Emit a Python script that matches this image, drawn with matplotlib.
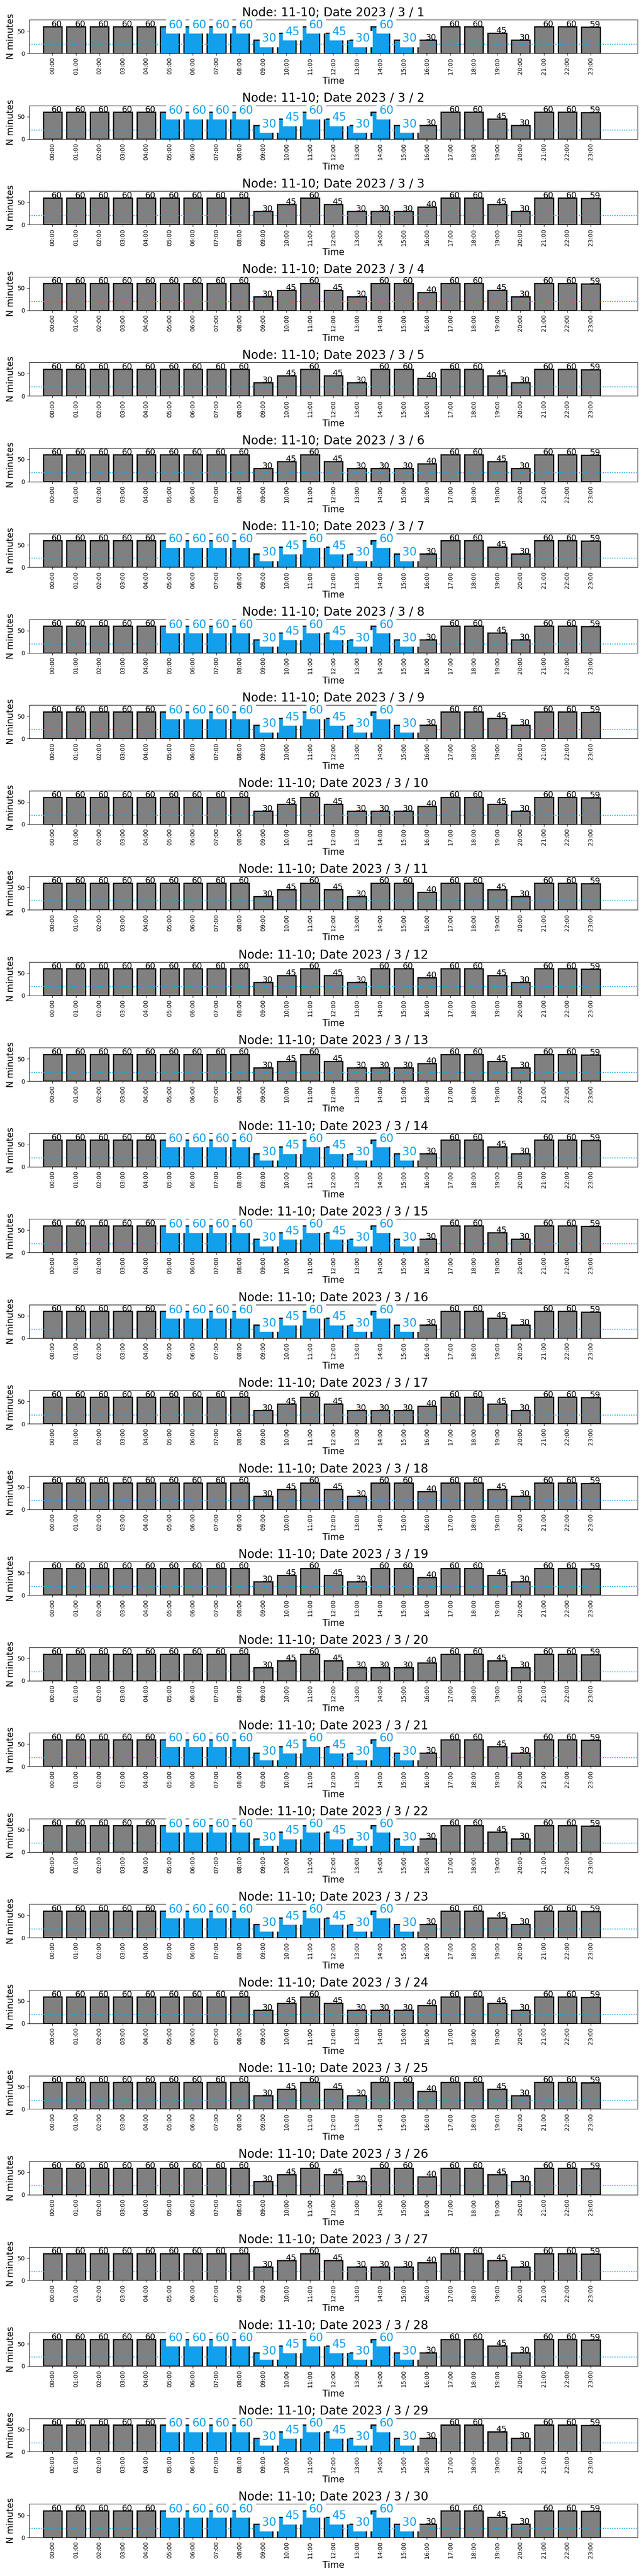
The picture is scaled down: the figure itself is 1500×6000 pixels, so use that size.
import matplotlib
matplotlib.use("Agg")
from matplotlib import pyplot as plt

NODE = "11-10"
YEAR = 2023
MONTH = 3
DAYS = list(range(1, 31))

HOURS = ["00:00", "01:00", "02:00", "03:00", "04:00", "05:00", "06:00", "07:00",
         "08:00", "09:00", "10:00", "11:00", "12:00", "13:00", "14:00", "15:00",
         "16:00", "17:00", "18:00", "19:00", "20:00", "21:00", "22:00", "23:00"]

# minutes per hour, three recurring day profiles
MINUTES_A = [60, 60, 60, 60, 60, 60, 60, 60, 60, 30, 45, 60, 45, 30, 60, 30, 30, 60, 60, 45, 30, 60, 60, 59]
MINUTES_B = [60, 60, 60, 60, 60, 60, 60, 60, 60, 30, 45, 60, 45, 30, 30, 30, 40, 60, 60, 45, 30, 60, 60, 59]
MINUTES_C = [60, 60, 60, 60, 60, 60, 60, 60, 60, 30, 45, 60, 45, 30, 60, 60, 40, 60, 60, 45, 30, 60, 60, 59]
DAY_PROFILE = "AABCCBAAABCCBAAABCCBAAABCCBAAA"
PROFILES = {"A": MINUTES_A, "B": MINUTES_B, "C": MINUTES_C}

# hours highlighted in blue on "A" days
HIGHLIGHT_HOURS = [5, 6, 7, 8, 9, 10, 11, 12, 13, 14, 15]
THRESHOLD = 20

GRAY = "#808080"
BLUE = "#12a0ec"

fig, axes = plt.subplots(len(DAYS), 1, figsize=(15, 60), dpi=100)
fig.subplots_adjust(left=0.0453, right=0.99, top=0.9923, bottom=0.015, hspace=1.56)

for ax, day, prof in zip(axes, DAYS, DAY_PROFILE):
    values = PROFILES[prof]
    highlight = prof == "A"
    x = list(range(len(HOURS)))
    colors = [BLUE if (highlight and i in HIGHLIGHT_HOURS) else GRAY for i in x]
    ax.bar(x, values, width=0.8, color=colors, edgecolor="black", linewidth=2)
    ax.axhline(THRESHOLD, color=BLUE, linestyle=":", linewidth=1.5)

    for i, v in zip(x, values):
        if colors[i] == BLUE:
            ax.text(i - 0.05, v - 4, str(v), ha="left", fontsize=19, color=BLUE,
                    bbox=dict(facecolor="white", edgecolor="white"))
        else:
            ax.text(i - 0.05, v, str(v), ha="left", fontsize=14, color="black")

    ax.set_xlim(-1, 25)
    ax.set_ylim(0, 75)
    ax.set_yticks([0, 50])
    ax.set_xticks(x)
    ax.set_xticklabels(HOURS, rotation=90, fontsize=10)
    ax.set_xlabel("Time", fontsize=15)
    ax.set_ylabel("N minutes", fontsize=15)
    ax.set_title(f"Node: {NODE}; Date {YEAR} / {MONTH} / {day}", fontsize=20)

plt.savefig("out.png", dpi=100)
